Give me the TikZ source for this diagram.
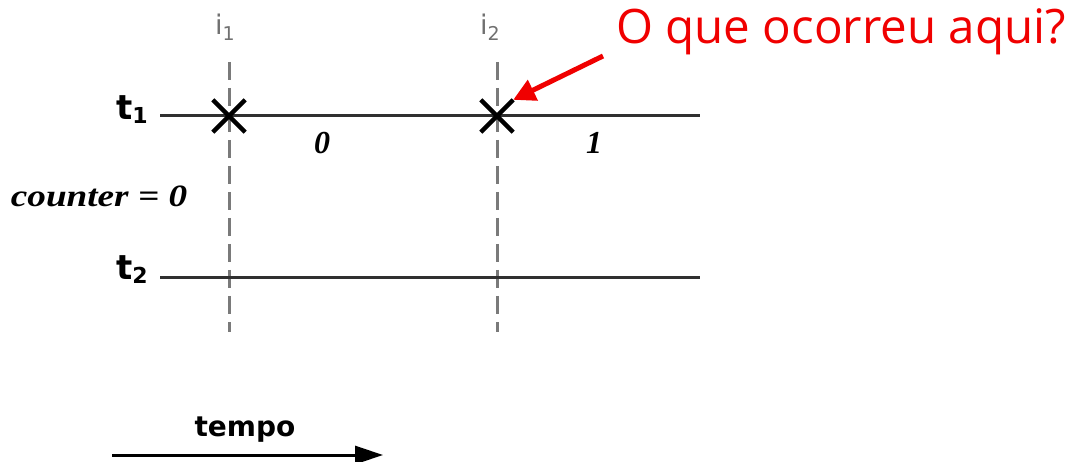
\documentclass[tikz,border=0pt]{standalone}
\usepackage{fontspec}
\setmainfont{Liberation Serif}
\newfontfamily\dvs{DejaVu Sans}
\newfontfamily\osans{Open Sans}
\usetikzlibrary{arrows.meta,shapes.misc}
\definecolor{dgray}{HTML}{707070}
\definecolor{lgray}{HTML}{7A7A7A}
\definecolor{tline}{HTML}{303030}
\definecolor{ared}{HTML}{F00000}
\tikzset{
  tl/.style={draw=tline,line width=3pt},
  vdash/.style={draw=lgray,line width=3pt,dash pattern=on 18pt off 8pt},
  xmark/.style={cross out,draw=black,line width=4.3pt,minimum size=28pt,inner sep=0pt},
  tlabel/.style={font=\dvs\bfseries\fontsize{34}{38}\selectfont,inner sep=0pt},
  ilabel/.style={font=\dvs\fontsize{27}{30}\selectfont,text=dgray,inner sep=0pt},
  val/.style={font=\bfseries\itshape\fontsize{32}{36}\selectfont,inner sep=0pt},
}
\begin{document}
\begin{tikzpicture}[x=1pt,y=-1pt]
\useasboundingbox (0,0) rectangle (1076,462);
% coordinates
\coordinate (t1a) at (160,116);
\coordinate (t1b) at (700,116);
\coordinate (t2a) at (160,278);
\coordinate (t2b) at (700,278);
\coordinate (v1a) at (229,62);
\coordinate (v1b) at (229,332);
\coordinate (v2a) at (497,62);
\coordinate (v2b) at (497,332);
% lines
\draw[vdash] (v1a) -- (v1b);
\draw[vdash] (v2a) -- (v2b);
\draw[tl] (t1a) -- (t1b);
\draw[tl] (t2a) -- (t2b);
% marks
\node[xmark] (x1) at (229,116) {};
\node[xmark] (x2) at (497,116) {};
% labels
\node[ilabel] (i1) at (225,27) {i\raisebox{-6pt}{\fontsize{19}{22}\selectfont 1}};
\node[ilabel] (i2) at (490,27) {i\raisebox{-6pt}{\fontsize{19}{22}\selectfont 2}};
\node[tlabel] (lt1) at (132,110) {t\raisebox{-4pt}{\fontsize{22}{26}\selectfont 1}};
\node[tlabel] (lt2) at (132,270) {t\raisebox{-4pt}{\fontsize{22}{26}\selectfont 2}};
\node[val] (v0) at (322,143) {0};
\node[val] (v1) at (594,143) {1};
\node[val,font=\bfseries\itshape\fontsize{31}{36}\selectfont] (cnt) at (99,196) {\scalebox{1.2}[1]{counter = 0}};
% question
\node[text=ared,font=\osans\fontsize{47.5}{52}\selectfont,inner sep=0pt,anchor=west] (q) at (616,32) {O que ocorreu aqui?};
\coordinate (qa) at (603,56);
\draw[ared,line width=5pt,-{Triangle[length=22pt,width=22pt]}] (qa) -- (x2.north east);
% time arrow
\node[font=\dvs\bfseries\fontsize{28}{32}\selectfont,inner sep=0pt] (tempo) at (245,430) {tempo};
\coordinate (ta) at (112,455);
\coordinate (tb) at (383,455);
\draw[black,line width=3pt,-{Triangle[length=28pt,width=18pt]}] (ta) -- (tb);
\end{tikzpicture}
\end{document}
